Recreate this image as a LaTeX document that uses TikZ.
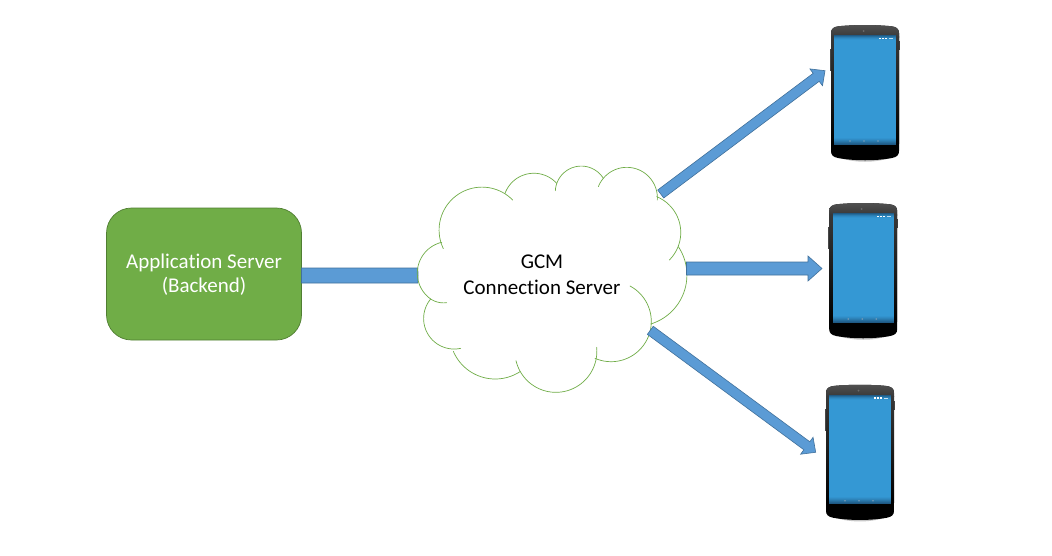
\documentclass[tikz,border=0pt]{standalone}
\usepackage{fontspec}
\setmainfont[Ligatures=NoCommon]{Carlito}
\usetikzlibrary{calc}
\definecolor{serverfill}{HTML}{70AD47}
\definecolor{serverline}{HTML}{507E32}
\definecolor{cloudline}{HTML}{70AD47}
\definecolor{arrowfill}{HTML}{5B9BD5}
\definecolor{arrowline}{HTML}{41719C}
\definecolor{screenblue}{HTML}{3498D4}
\definecolor{screendark}{HTML}{1F5A85}
\tikzset{
  server/.style={draw=serverline,line width=.7pt,fill=serverfill,rounded corners=25pt,minimum width=195pt,minimum height=132pt,inner sep=0pt,text=white,align=center,font=\fontsize{21}{24.5}\selectfont},
  cloudlabel/.style={inner sep=0pt,text=black,align=center,font=\fontsize{21}{25.5}\selectfont},
  lobe/.style={draw=cloudline,line width=.7pt,line cap=round},
  blockarrow/.style={draw=arrowline,line width=.6pt,fill=arrowfill,line join=miter},
}
% tail, tip, shaft half width, head half width, head length
\newcommand\blockarrow[5]{%
  \path[blockarrow] let \p1=($(#2)-(#1)$), \n1={atan2(\y1,\x1)}, \n2={veclen(\x1,\y1)} in
    [shift={(#1)},rotate=\n1]
    (0pt,-#3pt) -- (\n2-#5pt,-#3pt) -- (\n2-#5pt,-#4pt) -- (\n2,0pt) -- (\n2-#5pt,#4pt) -- (\n2-#5pt,#3pt) -- (0pt,#3pt) -- cycle;}
% circular arc through three points, given in the 3x crop's units
\newcommand\lobearc[6]{%
  \pgfmathsetmacro\ax{(#3-#1)/100}\pgfmathsetmacro\ay{(#4-#2)/100}%
  \pgfmathsetmacro\bx{(#5-#1)/100}\pgfmathsetmacro\by{(#6-#2)/100}%
  \pgfmathsetmacro\dd{2*(\ax*\by-\ay*\bx)}%
  \pgfmathsetmacro\ux{(\by*(\ax*\ax+\ay*\ay)-\ay*(\bx*\bx+\by*\by))/\dd}%
  \pgfmathsetmacro\uy{(\ax*(\bx*\bx+\by*\by)-\bx*(\ax*\ax+\ay*\ay))/\dd}%
  \pgfmathsetmacro\rr{100*veclen(\ux,\uy)}%
  \pgfmathsetmacro\cx{#1+100*\ux}\pgfmathsetmacro\cy{#2+100*\uy}%
  \pgfmathsetmacro\aa{atan2(-\uy,-\ux)}%
  \pgfmathsetmacro\am{Mod(atan2(\ay-\uy,\ax-\ux)-\aa,360)}%
  \pgfmathsetmacro\ab{Mod(atan2(\by-\uy,\bx-\ux)-\aa,360)}%
  \pgfmathsetmacro\sw{\am<\ab?\ab:\ab-360}%
  \pgfmathsetmacro\ae{\aa+\sw}%
  \draw[lobe] plot[domain=\aa:\ae,samples=40,smooth,variable=\t]
    ({400+(\cx+\rr*cos(\t))/3},{150+(\cy+\rr*sin(\t))/3});}
\newcommand\phonepic[3]{%
  \begin{scope}[shift={(#2,#3)}]
    \coordinate (#1) at (34,67);
    \fill[black!72] (-1.5,24) rectangle (1,46);
    \fill[black!72] (67,16) rectangle (68.8,25);
    \fill[black!22] (9,133) .. controls (25,138) and (43,138) .. (59,133) -- cycle;
    \begin{scope}
      \clip (0,8) .. controls (0,3.5) and (3,1.8) .. (8,1.2) .. controls (25,-.3) and (43,-.3) .. (60,1.2) .. controls (65,1.8) and (68,3.5) .. (68,8) -- (68,126) .. controls (68,130) and (66,132) .. (61,133) .. controls (45,136) and (23,136) .. (7,133) .. controls (2,132) and (0,130) .. (0,126) -- cycle;
      \fill[black] (-1,-1) rectangle (69,137);
      \shade[top color=black!68,bottom color=black!78] (-1,-1) rectangle (69,12);
      \shade[top color=black!78,bottom color=black] (-1,11.9) rectangle (69,118);
    \end{scope}
    \fill[screenblue] (3.3,10) rectangle (64.7,119.5);
    \foreach \s/\m in {0/100,1/70,2/42,3/22,4/8}
      \fill[screenblue!\the\numexpr100-\m\relax!screendark] (3.3,10+\s) rectangle (64.7,11+\s);
    \foreach \s/\m in {0/100,1/85,2/68,3/50,4/34,5/20,6/8}
      \fill[screenblue!\the\numexpr100-\m\relax!screendark] (3.3,119.5-\s) rectangle (64.7,118.5-\s);
    \fill[white] (48,12.7) rectangle (50,14.3);
    \fill[white] (51,12.7) rectangle (53,14.3);
    \fill[white] (54,12.7) rectangle (56,14.3);
    \fill[white!70!screenblue] (57.5,13) rectangle (62,14);
    \fill[white!40!screendark] (19,116) circle (.9);
    \fill[white!40!screendark] (33,116) circle (.9);
    \fill[white!40!screendark] (47,116) circle (.9);
    \fill[black!58] (32.5,6) circle (1);
  \end{scope}}
\begin{document}
\begin{tikzpicture}[x=1pt,y=-1pt]
\useasboundingbox (0,0) rectangle (1052,555);
\fill[white] (0,0) rectangle (1052,555);
\node[server] (srv) at (204,274) {\raisebox{-1.5pt}[\height][\depth]{\begin{tabular}{@{}c@{}}Application Server\\(Backend)\end{tabular}}};
\node[cloudlabel] (gcm) at (542,275) {GCM\\Connection Server};
\coordinate (srvport) at (301.5,275.5);
\coordinate (cloudin) at (418,275.5);
\coordinate (t1) at (660.7,194);
\coordinate (t2) at (686.5,268.5);
\coordinate (t3) at (650.3,330.3);
\coordinate (a1) at (825,70.7);
\coordinate (a2) at (822,268.5);
\coordinate (a3) at (815.7,452.3);
\blockarrow{srvport}{cloudin}{7.5}{7.5}{0.1}
% cloud lobes
\lobearc{130}{296}{165}{140}{338}{150}
\lobearc{125}{277}{52}{365}{92}{447}
\lobearc{315}{130}{395}{70}{470}{100}
\lobearc{466}{122}{520}{52}{610}{85}
\lobearc{595}{110}{680}{52}{772}{150}
\lobearc{770}{140}{842}{240}{808}{330}
\lobearc{835}{290}{860}{390}{752}{522}
\lobearc{690}{408}{745}{560}{585}{625}
\lobearc{590}{592}{465}{727}{348}{632}
\lobearc{360}{665}{285}{687}{160}{604}
\lobearc{182}{595}{72}{520}{92}{447}
\lobearc{92}{447}{112}{456}{140}{458}
% arrows to phones
\blockarrow{t1}{a1}{5}{10.5}{11}
\blockarrow{t2}{a2}{6.5}{12.5}{14}
\blockarrow{t3}{a3}{5}{10.5}{11}
\phonepic{p1}{831}{25}
\phonepic{p2}{829.2}{203}
\phonepic{p3}{826}{384.7}
\end{tikzpicture}
\end{document}
